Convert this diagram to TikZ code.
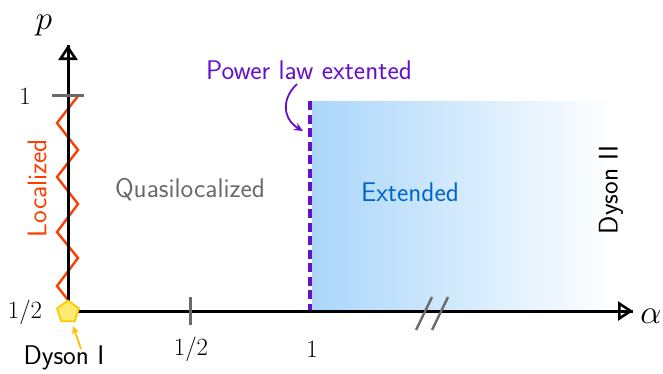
\documentclass[tikz,border=0pt]{standalone}
\usetikzlibrary{arrows.meta,shapes.geometric}
\definecolor{locred}{RGB}{255,61,0}
\definecolor{plpurple}{RGB}{102,16,204}
\definecolor{extblue}{RGB}{0,102,204}
\definecolor{shadeblue}{RGB}{170,214,250}
\definecolor{tickgray}{RGB}{105,105,105}
\definecolor{pentfill}{RGB}{255,236,110}
\definecolor{pentdraw}{RGB}{255,200,0}
\definecolor{dysonarrow}{RGB}{255,190,0}
\begin{document}
\begin{tikzpicture}[x=1pt,y=-1pt,
  axis/.style={line width=3pt,black},
  axtip/.style={-{Triangle[open,length=15pt,width=19pt,line width=2.6pt]}},
  tickmark/.style={line width=3pt,tickgray},
  lbl/.style={font=\fontsize{23}{27}\selectfont,inner sep=0pt,scale=1.08},
  mlbl/.style={font=\fontsize{24.88}{29}\selectfont,inner sep=0pt,scale=1.35},
  slbl/.style={font=\fontsize{27}{31}\selectfont\sffamily,inner sep=0pt}]
\useasboundingbox (0,0) rectangle (663,373);
% coordinates
\coordinate (O) at (68,311);
\coordinate (ytip) at (68,45);
\coordinate (xtip) at (633,311);
\coordinate (y1l) at (52,95);
\coordinate (y1r) at (84,95);
\coordinate (xhb) at (190,325);
\coordinate (xht) at (190,297);
% shaded region
\shade[left color=shadeblue,right color=white] (312,101) rectangle (615,311);
% dashed line
\coordinate (dtop) at (310,101);
\coordinate (dbot) at (310,311);
\draw[plpurple,line width=3.2pt,dash pattern=on 9pt off 4.5pt] (dtop) -- (dbot);
% zigzag
\draw[locred,line width=2.4pt,line join=miter] (78,96) -- (57,123) -- (78,150) -- (57,177) -- (78,204) -- (57,232) -- (78,258) -- (57,286) -- (68,300);
% axes
\draw[axis] (O) -- (ytip);
\draw[axis] (O) -- (xtip);
\draw[axis,axtip] (O) -- (ytip);
\draw[axis,axtip] (O) -- (xtip);
% ticks
\draw[tickmark] (y1l) -- (y1r);
\draw[tickmark] (xhb) -- (xht);
% break marks
\coordinate (b1a) at (416,330); \coordinate (b1b) at (432,297);
\coordinate (b2a) at (432,330); \coordinate (b2b) at (448,297);
\draw[tickmark,line width=2.4pt] (b1a) -- (b1b);
\draw[tickmark,line width=2.4pt] (b2a) -- (b2b);
% labels
\node[mlbl] (plabel) at (44,26) {$p$};
\node[mlbl] (alabel) at (651,316) {$\alpha$};
\node[lbl] (y1) at (25,96) {1};
\node[lbl] (yhalf) at (25,312) {1/2};
\node[lbl] (xhalf) at (191,349) {1/2};
\node[lbl] (x1) at (312,349) {1};
% pentagon
\node[regular polygon,regular polygon sides=5,minimum size=23pt,inner sep=0pt,fill=pentfill,draw=pentdraw,line width=1.8pt] (dyson1pt) at (68,312) {};
\node[slbl] (dyson1) at (64,358) {Dyson I};
\coordinate (d1s) at (81,349);
\coordinate (d1e) at (73,326);
\draw[dysonarrow,line width=1.8pt,-{Stealth[length=8pt,width=7pt]}] (d1s) -- (d1e);
% region labels
\node[slbl,text=locred,rotate=90] (loc) at (37,188) {Localized};
\node[slbl,text=tickgray] (quasi) at (190,190) {Quasilocalized};
\node[slbl,text=extblue] (ext) at (410,192) {Extended};
\node[slbl,rotate=90] (dyson2) at (611,190) {Dyson II};
\node[slbl,text=plpurple] (pl) at (309,70) {Power law extented};
\coordinate (pls) at (297,84);
\coordinate (plend) at (303,131);
\draw[plpurple,line width=1.8pt,-{Stealth[length=9pt,width=8pt]}] (pls) .. controls (280,100) and (284,120) .. (plend);
\end{tikzpicture}
\end{document}
